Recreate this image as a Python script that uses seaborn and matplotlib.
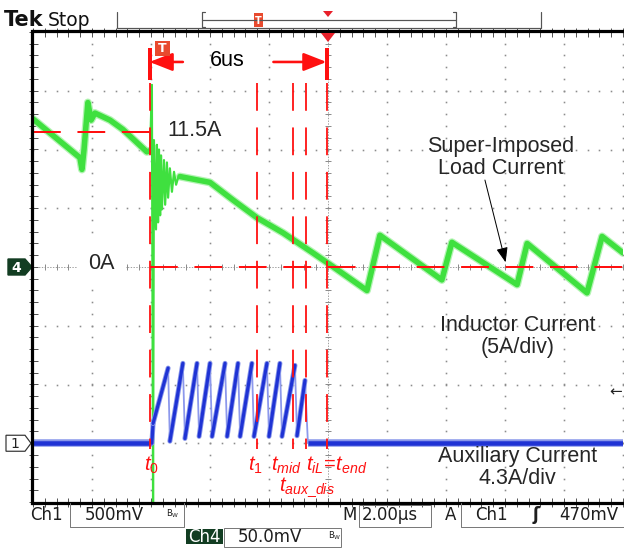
import numpy as np
import pandas as pd
import matplotlib
matplotlib.use("Agg")
import matplotlib.pyplot as plt
import seaborn as sns
from matplotlib.patches import Polygon, Rectangle, FancyArrowPatch

# ---------------------------------------------------------------------------
# Captured waveforms (time in µs from the left edge of the screen)
# ---------------------------------------------------------------------------
# Inductor current, channel 4 (A) - steady state before the transient
il_pre_time = [0.00, 1.59, 1.66, 1.73, 1.86, 1.97, 2.10, 2.61, 3.05, 3.86, 3.97]
il_pre_amps = [12.6, 9.3, 8.3, 10.0, 14.0, 12.5, 13.1, 12.5, 11.7, 9.8, 9.9]

# Inductor current - switching ringing at t0
il_ring_time = [3.97, 4.03, 4.07, 4.10, 4.17, 4.20, 4.24, 4.27, 4.31, 4.34, 4.37,
                4.44, 4.48, 4.54, 4.58, 4.64, 4.71, 4.78, 4.85, 4.92, 4.98]
il_ring_amps = [9.9, 15.5, -20.3, 10.8, 3.2, 10.4, 3.8, 10.0, 4.4, 9.5, 4.9,
                9.1, 5.3, 8.9, 5.9, 8.4, 6.4, 8.1, 7.0, 7.6, 7.7]

# Inductor current - discharge ramp and new load current
il_post_time = [4.98, 6.00, 6.78, 7.59, 8.48, 9.49, 10.07, 11.32, 11.76, 13.86,
                14.20, 16.41, 16.75, 18.78, 19.29, 20.00]
il_post_amps = [7.7, 7.2, 5.7, 4.2, 2.9, 1.2, 0.2, -2.0, 2.7, -1.1,
                2.1, -1.5, 2.0, -2.2, 2.6, 1.2]

# Auxiliary current, channel 1 (A)
aux_time = [0.00, 4.03, 4.07, 4.58, 4.64, 5.08, 5.15, 5.56, 5.63, 6.00, 6.07,
            6.51, 6.58, 6.95, 7.02, 7.42, 7.49, 7.93, 8.00, 8.37, 8.44,
            8.88, 8.95, 9.22, 9.32, 20.00]
aux_amps = [0.0, 0.0, 1.45, 5.5, 0.15, 5.85, 0.35, 5.85, 0.5, 5.85, 0.5,
            5.85, 0.5, 5.85, 0.5, 5.85, 0.5, 5.85, 0.5, 5.85, 0.5,
            5.7, 0.55, 4.6, 0.0, 0.0]

# Event markers (µs)
event_names = ["t0", "t1", "tmid", "taux_dis", "tend"]
event_times = [3.95, 7.60, 8.80, 9.25, 9.95]
interval_label = "6us"
level_high = 11.5          # A, current before the transient
level_low = 0.0            # A

# Scope settings
IL_SCALE = 5.0             # A/div (ch4)
AUX_SCALE = 4.3            # A/div (ch1)
AUX_OFFSET = -3.0          # div
N_HDIV, N_VDIV = 10, 8
TIME_PER_DIV = 2.0

# ---------------------------------------------------------------------------
sns.set_style("white")
plt.rcParams["font.family"] = ["Liberation Sans", "DejaVu Sans"]
plt.rcParams["mathtext.fontset"] = "custom"
plt.rcParams["mathtext.it"] = "Liberation Sans:italic"
plt.rcParams["mathtext.rm"] = "Liberation Sans"
plt.rcParams["lines.scale_dashes"] = False

W, H = 624, 548
fig = plt.figure(figsize=(W / 100, H / 100), dpi=100)
fig.patch.set_facecolor("white")

# screen (graticule) area in pixels
GX0, GX1, GY0, GY1 = 33, 623, 32, 502
ax = fig.add_axes([GX0 / W, 1 - GY1 / H, (GX1 - GX0) / W, (GY1 - GY0) / H])
ax.set_xlim(0, N_HDIV * TIME_PER_DIV)
ax.set_ylim(-N_VDIV / 2, N_VDIV / 2)
ax.set_axis_off()
ax.set_facecolor("white")

PX = 0.72  # points per pixel
gcol = "#8c8c8c"
tmax = N_HDIV * TIME_PER_DIV

# --- graticule -------------------------------------------------------------
for k in range(1, N_HDIV + 1):
    t = k * TIME_PER_DIV
    if k == N_HDIV // 2:
        continue
    yy = np.arange(-4, 4.001, 0.2)
    ax.plot(np.full_like(yy, t), yy, ls="none", marker="s", ms=1.6 * PX,
            color=gcol, mew=0, zorder=1)
for d in range(-3, 4):
    if d == 0:
        continue
    xx = np.arange(0, tmax + 0.001, 0.4)
    ax.plot(xx, np.full_like(xx, d), ls="none", marker="s", ms=1.6 * PX,
            color=gcol, mew=0, zorder=1)
# centre cross with minor ticks
tc = tmax / 2
ax.plot([0, tmax], [0, 0], color=gcol, lw=0.8 * PX, dashes=(1.0, 1.0), zorder=1)
ax.plot([tc, tc], [-4, 4], color=gcol, lw=0.8 * PX, dashes=(1.0, 1.0), zorder=1)
xx = np.arange(0, tmax + 0.001, 0.4)
ax.plot(xx, np.zeros_like(xx), ls="none", marker="|", ms=6 * PX, mew=1.0 * PX,
        color=gcol, zorder=1)
yy = np.arange(-4, 4.001, 0.2)
ax.plot(np.full_like(yy, tc), yy, ls="none", marker="_", ms=6 * PX, mew=1.0 * PX,
        color=gcol, zorder=1)
# border ticks
ax.plot(xx, np.full_like(xx, 4), ls="none", marker="|", ms=9 * PX, mew=1.0 * PX,
        color="#555555", zorder=1, clip_on=False)
ax.plot(xx, np.full_like(xx, -4), ls="none", marker="|", ms=9 * PX, mew=1.0 * PX,
        color="#555555", zorder=1, clip_on=False)
ax.plot(np.zeros_like(yy), yy, ls="none", marker="_", ms=9 * PX, mew=1.0 * PX,
        color="#555555", zorder=1, clip_on=False)

# --- waveforms ---------------------------------------------------------------
green = "#3fe03f"
green_halo = "#b4f4b4"
df_pre = pd.DataFrame({"t": il_pre_time, "div": np.array(il_pre_amps) / IL_SCALE})
df_ring = pd.DataFrame({"t": il_ring_time, "div": np.array(il_ring_amps) / IL_SCALE})
df_post = pd.DataFrame({"t": il_post_time, "div": np.array(il_post_amps) / IL_SCALE})
for df in (df_pre, df_post):
    sns.lineplot(data=df, x="t", y="div", sort=False, estimator=None, ax=ax,
                 color=green_halo, lw=8 * PX, zorder=3)
    sns.lineplot(data=df, x="t", y="div", sort=False, estimator=None, ax=ax,
                 color=green, lw=5.5 * PX, zorder=4)
sns.lineplot(data=df_ring, x="t", y="div", sort=False, estimator=None, ax=ax,
             color=green, lw=2.2 * PX, zorder=4)

blue = "#1f33d4"
blue_light = "#8c98ec"
aux_div = AUX_OFFSET + np.array(aux_amps) / AUX_SCALE
df_aux = pd.DataFrame({"t": aux_time, "div": aux_div})
sns.lineplot(data=df_aux, x="t", y="div", sort=False, estimator=None, ax=ax,
             color=blue_light, lw=1.8 * PX, zorder=4)
for i in range(len(aux_time) - 1):
    a0, a1 = aux_amps[i], aux_amps[i + 1]
    seg_t = aux_time[i:i + 2]
    seg_d = aux_div[i:i + 2]
    if a0 == 0 and a1 == 0:
        ax.plot(seg_t, seg_d, color="#8896ea", lw=7.5 * PX, zorder=4,
                solid_capstyle="butt")
        ax.plot(seg_t, seg_d, color=blue, lw=4.5 * PX, zorder=5,
                solid_capstyle="butt")
    elif a1 > a0:
        ax.plot(seg_t, seg_d, color="#8896ea", lw=5 * PX, zorder=5)
        ax.plot(seg_t, seg_d, color=blue, lw=3.2 * PX, zorder=5)

# --- red construction lines ----------------------------------------------------
red = "#ff1010"
dash = (20, 12)
t0, t1, tmid, taux, tend = event_times
top_d, bot_d = 3.13, -3.1
ax.plot([0, t0], [level_high / IL_SCALE] * 2, color=red, lw=2 * PX, dashes=dash, zorder=6)
ax.plot([t0, tmax], [level_low / IL_SCALE] * 2, color=red, lw=2 * PX, dashes=dash, zorder=6)
for t in event_times:
    ax.plot([t, t], [top_d, bot_d], color=red, lw=1.8 * PX, dashes=dash, zorder=6)
# interval bars and arrows
ybar0, ybar1 = 3.19, 3.73
for t in (t0, tend):
    ax.plot([t, t], [ybar0, ybar1], color=red, lw=4 * PX, zorder=7,
            solid_capstyle="butt")
yarr = 3.49
for start, end in ((5.08, t0), (8.15, tend)):
    ax.add_patch(FancyArrowPatch((start, yarr), (end, yarr),
                                 arrowstyle="-|>,head_length=14,head_width=5.5",
                                 mutation_scale=1, lw=2.6 * PX, color=red,
                                 shrinkA=0, shrinkB=0, zorder=7))
ax.text((t0 + tend) / 2 - 0.35, yarr + 0.03, interval_label, fontsize=15.5,
        ha="center", va="center", color="black", zorder=8)

# --- level / trace labels ------------------------------------------------------
wbox = dict(facecolor="white", edgecolor="none", pad=3)
ax.text(t0 + 0.6, level_high / IL_SCALE + 0.03, f"{level_high:g}A", fontsize=15.5,
        ha="left", va="center", zorder=8, bbox=wbox)
ax.text(2.32, 0.06, f"{level_low:g}A", fontsize=15.5, ha="center", va="center",
        zorder=8, bbox=dict(facecolor="white", edgecolor="none", pad=8))
ax.text(15.86, 1.87, "Super-Imposed\nLoad Current", fontsize=15.5, ha="center",
        va="center", linespacing=1.05, zorder=8)
ax.add_patch(FancyArrowPatch((15.32, 1.48), (16.02, 0.08),
                             arrowstyle="-|>,head_length=9,head_width=3.5",
                             mutation_scale=1, lw=1.0 * PX, color="black",
                             shrinkA=0, shrinkB=0, zorder=8))
ax.text(16.44, -1.18, "Inductor Current\n(5A/div)", fontsize=15.5, ha="center",
        va="center", linespacing=1.05, zorder=8)
ax.text(16.41, -3.41, "Auxiliary Current\n4.3A/div", fontsize=15.5, ha="center",
        va="center", linespacing=1.05, zorder=8)

# event labels
lab_y = -3.38
rkw = dict(color=red, fontsize=14.5, ha="center", va="center", zorder=8)
ax.text(t0 + 0.05, lab_y, r"$t_0$", **rkw)
ax.text(t1 - 0.05, lab_y, r"$t_1$", **rkw)
ax.text(tmid - 0.2, lab_y, r"$t_{mid}$", **rkw)
ax.text(tend + 0.35, lab_y, r"$t_{iL}\!=\!t_{end}$", **rkw)
ax.text(taux + 0.05, -3.75, r"$t_{aux\_dis}$", **rkw)

# --- screen chrome (pixel coordinates) ------------------------------------------
ov = fig.add_axes([0, 0, 1, 1], facecolor="none")
ov.set_xlim(0, W)
ov.set_ylim(H, 0)
ov.set_axis_off()

def div_to_px(d):
    return GY0 + (N_VDIV / 2 - d) * (GY1 - GY0) / N_VDIV

# borders
ov.plot([GX0 - 1, GX0 - 1], [GY0 - 1, GY1 + 1], color="black", lw=3.2 * PX,
        solid_capstyle="projecting")
ov.plot([GX0 - 1, W], [GY0 - 1, GY0 - 1], color="black", lw=3.2 * PX)
ov.plot([GX0 - 1, W], [GY1 + 1, GY1 + 1], color="black", lw=3.2 * PX)

# top status bar
ov.text(4, 20, "Tek", fontsize=15, fontweight="bold", va="center", ha="left",
        family="DejaVu Sans", color="#111111")
ov.text(48, 20, "Stop", fontsize=13.5, va="center", ha="left",
        family="DejaVu Sans", color="#111111")
bar_c = "#555555"
ov.plot([117, 117, 541, 541], [12, 28, 28, 12], color=bar_c, lw=1.2 * PX)
ov.plot([205, 202, 202, 205], [12, 12, 27, 27], color=bar_c, lw=1.2 * PX)
ov.plot([453, 456, 456, 453], [12, 12, 27, 27], color=bar_c, lw=1.2 * PX)
ov.plot([202, 456], [20, 20], color=bar_c, lw=1.2 * PX)
ov.add_patch(Polygon([[323, 11], [333, 11], [328, 17]], closed=True,
                     color="#e8202a", lw=0))
ov.add_patch(Rectangle((254, 13), 9, 14, facecolor="#e84a2e", edgecolor="none"))
ov.text(258.5, 20.5, "T", fontsize=7, fontweight="bold", color="white",
        ha="center", va="center", family="DejaVu Sans")
# trigger-position and centre markers on the graticule
ov.add_patch(Polygon([[321, 33], [335, 33], [328, 42]], closed=True,
                     color="#e8202a", lw=0, zorder=5))
ov.add_patch(Rectangle((155, 41), 15, 15, facecolor="#e84a2e", edgecolor="none",
                       zorder=5))
ov.text(162.5, 48.5, "T", fontsize=9, fontweight="bold", color="white",
        ha="center", va="center", family="DejaVu Sans", zorder=6)

# channel ground markers
y4 = div_to_px(0)
ov.add_patch(Polygon([[8, y4 - 8], [25, y4 - 8], [32, y4], [25, y4 + 8], [8, y4 + 8]],
                     closed=True, facecolor="#123d22", edgecolor="#123d22", lw=1))
ov.text(16.5, y4 + 0.5, "4", fontsize=10, fontweight="bold", color="white",
        ha="center", va="center", family="DejaVu Sans")
y1 = div_to_px(AUX_OFFSET)
ov.add_patch(Polygon([[6, y1 - 8], [25, y1 - 8], [31, y1], [25, y1 + 8], [6, y1 + 8]],
                     closed=True, facecolor="white", edgecolor="#333333", lw=1.2 * PX))
ov.text(15, y1 + 0.5, "1", fontsize=10, color="#222222", ha="center",
        va="center", family="DejaVu Sans")
# trigger level arrow
ov.text(616, 392, "\u2190", fontsize=11, ha="center", va="center",
        family="DejaVu Sans", color="#222222")

# bottom readouts
rc = "#1e1e1e"
bc = "#7a7a7a"
rk = dict(fontsize=12, va="center", ha="left", family="DejaVu Sans", color=rc)
bw = dict(fontsize=6, va="center", ha="left", family="DejaVu Sans", color=rc)
ov.plot([70, 70, 184, 184], [503, 527, 527, 503], color=bc, lw=1 * PX)
ov.text(30, 515, "Ch1", **rk)
ov.text(85, 515, "500mV", **rk)
ov.text(166, 514, r"B$_\mathregular{W}$", **bw)
ov.text(342, 515, "M", **rk)
ov.add_patch(Rectangle((359, 505), 72, 22, facecolor="none", edgecolor=bc, lw=1 * PX))
ov.text(362, 515, "2.00\u00b5s", **rk)
ov.text(445, 515, "A", **rk)
ov.plot([461, 461, W], [503, 527, 527], color=bc, lw=1 * PX)
ov.text(475, 515, "Ch1", **rk)
ov.text(533, 515, "\u0283", fontsize=12, fontweight="bold", va="center",
        ha="left", family="DejaVu Sans", color=rc)
ov.text(559, 515, "470mV", **rk)
ov.add_patch(Rectangle((186, 529), 37, 15, facecolor="#123d22", edgecolor="none"))
ov.text(204.5, 537, "Ch4", fontsize=12, va="center", ha="center",
        family="DejaVu Sans", color="white")
ov.add_patch(Rectangle((224, 528), 117, 19, facecolor="none", edgecolor=bc, lw=1 * PX))
ov.text(238, 537, "50.0mV", **rk)
ov.text(328, 536, r"B$_\mathregular{W}$", **bw)

fig.savefig("out.png", dpi=100, facecolor="white")
